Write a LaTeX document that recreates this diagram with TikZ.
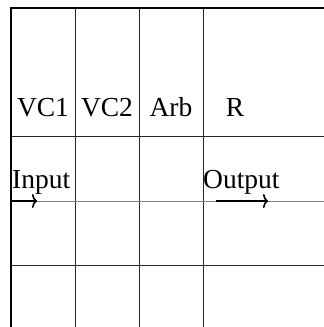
\documentclass[tikz,border=0pt]{standalone}
\usepackage{fontspec}
\setmainfont{Liberation Serif}
\usetikzlibrary{arrows.meta,positioning}

\begin{document}
\begin{tikzpicture}[x=1pt, y=-1pt, every node/.style={font=\fontsize{27.5}{30}\selectfont, inner sep=0pt},
    gridline/.style={draw=black!85, line width=0.9pt},
    frameline/.style={draw=black, line width=2pt},
    flow/.style={-{To[length=5pt, width=14pt]}, line width=1.6pt}]
            \useasboundingbox (0,0) rectangle (324,327);
            % grid
            \draw[gridline] (75,8) -- (75,327);
            \draw[gridline] (139,8) -- (139,327);
            \draw[gridline] (203,8) -- (203,327);
            \draw[gridline] (11,136) -- (324,136);
            \draw[gridline, draw=black!50] (11,201) -- (324,201);
            \draw[gridline] (11,265) -- (324,265);
            \draw[frameline] (11,327) -- (11,8) -- (324,8);

            % column labels
            \node[anchor=base] (vcone) at (43,116) {VC1};
            \node[anchor=base] (vctwo) at (107,116) {VC2};
            \node[anchor=base] (arb) at (171,116) {Arb};
            \node[anchor=base] (router) at (235,116) {R};

            % ports
            \node[anchor=base west] (input) at (12,188) {Input};
            \node[anchor=base west] (output) at (203,188) {Output};
            \coordinate (inA) at (11,201);
            \coordinate (inB) at (37,201);
            \coordinate (outA) at (216,201);
            \coordinate (outB) at (268,201);
            \draw[flow] (inA) -- (inB);
            \draw[flow] (outA) -- (outB);
        \end{tikzpicture}
\end{document}
